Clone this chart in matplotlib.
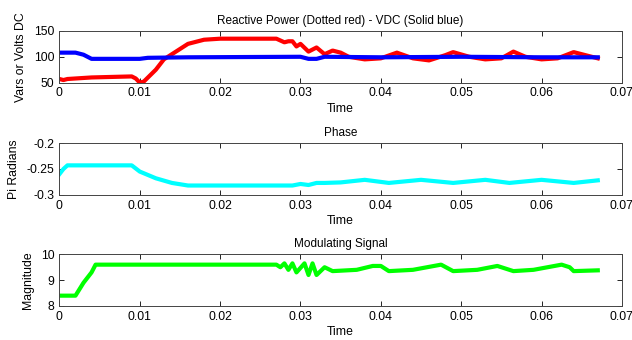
import matplotlib
matplotlib.use('Agg')
import matplotlib.pyplot as plt

plt.rcParams['font.family'] = ['Liberation Sans', 'DejaVu Sans']
plt.rcParams['font.size'] = 8

# reactive power (red) and VDC (blue)
t_q = [0, 0.0005, 0.001, 0.002, 0.004, 0.009, 0.0095, 0.010, 0.0105, 0.012, 0.013, 0.014,
       0.016, 0.018, 0.020, 0.027, 0.028, 0.0285, 0.029, 0.0295, 0.030, 0.031, 0.032, 0.033,
       0.034, 0.035, 0.036, 0.038, 0.040, 0.042, 0.044, 0.046, 0.048, 0.049, 0.051, 0.053,
       0.055, 0.0565, 0.058, 0.060, 0.062, 0.064, 0.065, 0.067]
q_vals = [57, 55, 57, 58, 60, 62, 58, 50, 52, 75, 95, 105,
          125, 133, 135, 135, 128, 130, 130, 120, 125, 110, 118, 105,
          112, 108, 100, 95, 97, 108, 97, 93, 103, 109, 100, 95,
          97, 110, 100, 95, 97, 109, 105, 97]
t_v = [0, 0.002, 0.003, 0.004, 0.010, 0.011, 0.016, 0.030, 0.0305, 0.031, 0.032, 0.0325,
       0.033, 0.040, 0.050, 0.060, 0.067]
v_vals = [108, 108, 104, 96, 96, 98, 99, 100, 98, 96, 96, 98,
          100, 99, 100, 99, 99]

# phase (cyan)
t_ph = [0, 0.0005, 0.001, 0.009, 0.010, 0.012, 0.014, 0.016, 0.029, 0.030, 0.031, 0.032,
        0.033, 0.035, 0.038, 0.041, 0.045, 0.049, 0.053, 0.056, 0.060, 0.064, 0.067]
ph_vals = [-0.26, -0.25, -0.243, -0.243, -0.255, -0.268, -0.277, -0.282, -0.282, -0.279,
           -0.281, -0.277, -0.277, -0.276, -0.271, -0.277, -0.271, -0.277, -0.271, -0.277,
           -0.271, -0.277, -0.272]

# modulating signal (green)
t_m = [0, 0.002, 0.003, 0.004, 0.0045, 0.027, 0.0275, 0.028, 0.0285, 0.029, 0.0295,
       0.0305, 0.031, 0.0315, 0.032, 0.033, 0.034, 0.037, 0.039, 0.040, 0.041, 0.044,
       0.0475, 0.049, 0.052, 0.0545, 0.0565, 0.059, 0.0625, 0.0635, 0.064, 0.067]
m_vals = [8.4, 8.4, 8.9, 9.3, 9.6, 9.6, 9.5, 9.65, 9.4, 9.65, 9.3,
          9.65, 9.2, 9.65, 9.2, 9.5, 9.35, 9.4, 9.55, 9.55, 9.35, 9.4,
          9.6, 9.35, 9.4, 9.55, 9.35, 9.4, 9.6, 9.5, 9.35, 9.38]

xticks = [0, 0.01, 0.02, 0.03, 0.04, 0.05, 0.06, 0.07]
xticklabels = ['0', '0.01', '0.02', '0.03', '0.04', '0.05', '0.06', '0.07']


def style(ax, title, ylabel, yticks, yticklabels):
  ax.set_xlim(0, 0.07)
  ax.set_xticks(xticks)
  ax.set_xticklabels(xticklabels)
  ax.set_ylim(yticks[0], yticks[-1])
  ax.set_yticks(yticks)
  ax.set_yticklabels(yticklabels)
  ax.tick_params(direction='in', top=True, right=True, length=3.5, width=0.6, pad=3.5,
                 labelsize=8.8)
  for s in ax.spines.values():
    s.set_color('#444444')
    s.set_linewidth(0.7)
  ax.set_title(title, fontsize=8.5, pad=5)
  ax.set_ylabel(ylabel, fontsize=8.8, labelpad=5)
  ax.set_xlabel('Time', fontsize=8.8, labelpad=2.5)


fig = plt.figure(figsize=(6.32, 3.4), dpi=100)
L, W, H = 0.094, 0.890, 0.152
ax1 = fig.add_axes([L, 0.757, W, H])
ax2 = fig.add_axes([L, 0.427, W, H])
ax3 = fig.add_axes([L, 0.100, W, H])

ax1.plot(t_q, q_vals, color='#ff0000', lw=3)
ax1.plot(t_v, v_vals, color='#0000ff', lw=3)
style(ax1, 'Reactive Power (Dotted red) - VDC (Solid blue)', 'Vars or Volts DC',
      [50, 100, 150], ['50', '100', '150'])

ax2.plot(t_ph, ph_vals, color='#00ffff', lw=3)
style(ax2, 'Phase', 'Pi Radians', [-0.3, -0.25, -0.2], ['-0.3', '-0.25', '-0.2'])

ax3.plot(t_m, m_vals, color='#00ff00', lw=3)
style(ax3, 'Modulating Signal', 'Magnitude', [8, 9, 10], ['8', '9', '10'])

fig.savefig('out.png', dpi=100)
